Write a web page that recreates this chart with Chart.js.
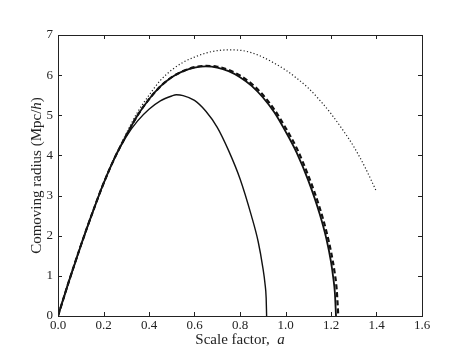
<!DOCTYPE html>
<html><head><meta charset="utf-8">
<script src="https://cdn.jsdelivr.net/npm/chart.js@4/dist/chart.umd.min.js"></script>
<style>html,body{margin:0;padding:0;background:#fff;}#c{display:block;}</style>
</head><body>
<canvas id="c" width="469" height="352"></canvas>
<script>
// Data
const xTicks = [0.0,0.2,0.4,0.6,0.8,1.0,1.2,1.4,1.6];
const yTicks = [0,1,2,3,4,5,6,7];

const aCurveA = [0,0.05,0.1,0.15,0.2,0.25,0.3,0.35,0.4,0.45,0.5,0.52,0.55,0.6,0.65,0.7,0.75,0.8,0.85,0.88,0.9,0.91,0.915,0.917];
const rCurveA = [0,0.9,1.75,2.55,3.3,3.95,4.47,4.86,5.15,5.36,5.48,5.51,5.49,5.37,5.1,4.7,4.12,3.42,2.5,1.85,1.22,0.8,0.45,0];

const aCurveB = [0,0.05,0.1,0.15,0.2,0.25,0.3,0.35,0.4,0.45,0.5,0.55,0.6,0.65,0.7,0.75,0.8,0.85,0.9,0.95,1.0,1.05,1.1,1.15,1.18,1.2,1.21,1.217,1.222];
const rCurveB = [0,0.9,1.75,2.55,3.3,3.95,4.5,5.0,5.4,5.72,5.95,6.1,6.19,6.22,6.19,6.1,5.95,5.74,5.45,5.08,4.6,4.06,3.38,2.55,1.92,1.35,0.95,0.58,0];

const aCurveC = [0,0.05,0.1,0.15,0.2,0.25,0.3,0.35,0.4,0.45,0.5,0.55,0.6,0.65,0.7,0.75,0.8,0.85,0.9,0.95,1.0,1.05,1.1,1.15,1.18,1.2,1.215,1.225,1.232];
const rCurveC = [0,0.9,1.75,2.55,3.3,3.95,4.5,5.0,5.4,5.72,5.95,6.1,6.2,6.23,6.21,6.13,5.99,5.79,5.51,5.15,4.69,4.17,3.5,2.7,2.1,1.6,1.12,0.66,0];

const aCurveD = [0,0.05,0.1,0.15,0.2,0.25,0.3,0.35,0.4,0.45,0.5,0.55,0.6,0.65,0.7,0.75,0.8,0.85,0.9,0.95,1.0,1.05,1.1,1.15,1.2,1.25,1.3,1.35,1.4];
const rCurveD = [0,0.9,1.75,2.55,3.3,3.96,4.55,5.08,5.5,5.87,6.13,6.32,6.45,6.55,6.61,6.63,6.62,6.56,6.45,6.3,6.13,5.92,5.68,5.38,5.04,4.65,4.22,3.7,3.1];

function pts(xs, ys){ return xs.map((x,i)=>({x:x, y:ys[i]})); }

const FONT = "'Liberation Serif', 'DejaVu Serif', serif";

const framePlugin = {
  id: 'frame',
  afterDraw(chart){
    const ctx = chart.ctx, ca = chart.chartArea;
    const xs = chart.scales.x, ys = chart.scales.y;
    ctx.save();
    ctx.strokeStyle = '#222';
    ctx.lineWidth = 1;
    ctx.strokeRect(Math.round(ca.left)+0.5, Math.round(ca.top)+0.5, Math.round(ca.right-ca.left), Math.round(ca.bottom-ca.top));
    const tl = 4;
    ctx.beginPath();
    xTicks.forEach(v=>{
      const p = Math.round(xs.getPixelForValue(v))+0.5;
      ctx.moveTo(p, ca.bottom); ctx.lineTo(p, ca.bottom - tl);
      ctx.moveTo(p, ca.top); ctx.lineTo(p, ca.top + tl);
    });
    yTicks.forEach(v=>{
      const p = Math.round(ys.getPixelForValue(v))+0.5;
      ctx.moveTo(ca.left, p); ctx.lineTo(ca.left + tl, p);
      ctx.moveTo(ca.right, p); ctx.lineTo(ca.right - tl, p);
    });
    ctx.stroke();
    // axis titles with italic variables
    ctx.fillStyle = '#222';
    ctx.textBaseline = 'middle';
    ctx.textAlign = 'left';
    const fs = 15;
    const normal = fs + 'px ' + FONT, ital = 'italic ' + fs + 'px ' + FONT;
    // x title
    let t1 = 'Scale factor,  ', t2 = 'a';
    ctx.font = normal; let w1 = ctx.measureText(t1).width;
    ctx.font = ital; let w2 = ctx.measureText(t2).width;
    let cx = (ca.left + ca.right)/2, x0 = cx - (w1+w2)/2, yT = 340;
    ctx.font = normal; ctx.fillText(t1, x0, yT);
    ctx.font = ital; ctx.fillText(t2, x0 + w1, yT);
    // y title
    const p1 = 'Comoving radius (Mpc/', p2 = 'h', p3 = ')';
    ctx.font = normal; const a1 = ctx.measureText(p1).width, a3 = ctx.measureText(p3).width;
    ctx.font = ital; const a2 = ctx.measureText(p2).width;
    const tot = a1+a2+a3;
    ctx.translate(37, (ca.top + ca.bottom)/2);
    ctx.rotate(-Math.PI/2);
    let s = -tot/2;
    ctx.font = normal; ctx.fillText(p1, s, 0);
    ctx.font = ital; ctx.fillText(p2, s + a1, 0);
    ctx.font = normal; ctx.fillText(p3, s + a1 + a2, 0);
    ctx.restore();
  }
};

const common = {pointRadius:0, cubicInterpolationMode:'monotone', fill:false};

new Chart(document.getElementById('c'), {
  type: 'line',
  data: {
    datasets: [
      Object.assign({data: pts(aCurveD, rCurveD), borderColor:'#222', borderWidth:1.2, borderDash:[1.2,2.2]}, common),
      Object.assign({data: pts(aCurveC, rCurveC), borderColor:'#111', borderWidth:2.2, borderDash:[5,3]}, common),
      Object.assign({data: pts(aCurveB, rCurveB), borderColor:'#111', borderWidth:1.8}, common),
      Object.assign({data: pts(aCurveA, rCurveA), borderColor:'#111', borderWidth:1.4}, common)
    ]
  },
  options: {
    responsive: false,
    devicePixelRatio: 1,
    animation: false,
    layout: {padding: {top: 35, right: 47, left: 0, bottom: 0}},
    plugins: {legend:{display:false}, tooltip:{enabled:false}},
    scales: {
      x: {
        type: 'linear', min: 0, max: 1.6,
        afterFit: s => { s.height = 36; },
        afterBuildTicks: s => { s.ticks = xTicks.map(v=>({value:v})); },
        grid: {display:false, drawTicks:false}, border: {display:false},
        ticks: {padding: 2, color:'#222', font:{family: FONT, size: 13}, maxRotation:0, callback: v => Number(v).toFixed(1)}
      },
      y: {
        type: 'linear', min: 0, max: 7,
        afterFit: s => { s.width = 58; },
        afterBuildTicks: s => { s.ticks = yTicks.map(v=>({value:v})); },
        grid: {display:false, drawTicks:false}, border: {display:false},
        ticks: {padding: 5, color:'#222', font:{family: FONT, size: 13}, callback: v => String(v)}
      }
    }
  },
  plugins: [framePlugin]
});
</script>
</body></html>
